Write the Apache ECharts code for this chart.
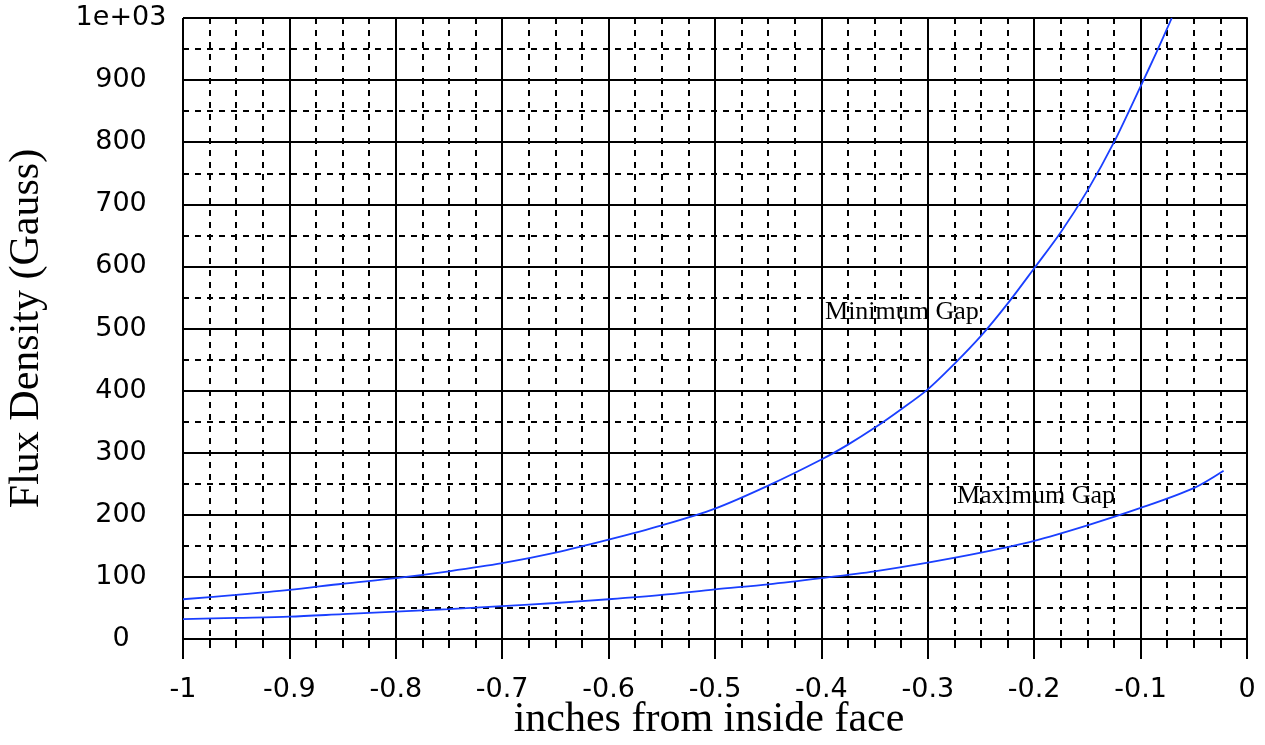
<!DOCTYPE html>
<html><head><meta charset="utf-8">
<script src="https://cdn.jsdelivr.net/npm/echarts@6/dist/echarts.min.js"></script>
<style>html,body{margin:0;padding:0;background:#fff}#c{width:1265px;height:745px}</style>
</head><body><div id="c"></div>
<script>
// ---- data ----
const minGapX = [-1,-0.95,-0.9,-0.85,-0.8,-0.75,-0.7,-0.65,-0.6,-0.55,-0.5,-0.45,-0.4,-0.375,-0.35,-0.325,-0.3,-0.275,-0.25,-0.225,-0.2,-0.175,-0.15,-0.125,-0.1,-0.085,-0.0707];
const minGapY = [64,71,79,89,98,109,122,139,160,183,210,247,289,313,340,370,402,443,488,540,597,655,722,800,890,945,1000];
const maxGapX = [-1,-0.95,-0.9,-0.85,-0.8,-0.75,-0.7,-0.65,-0.6,-0.55,-0.5,-0.45,-0.4,-0.35,-0.3,-0.25,-0.2,-0.15,-0.1,-0.05,-0.022];
const maxGapY = [32,34,36,40,44,48,53,58,64,71,80,88,98,109,123,139,158,183,211,243,271];
const xTickLabels = ['-1','-0.9','-0.8','-0.7','-0.6','-0.5','-0.4','-0.3','-0.2','-0.1','0'];
const yTickLabels = ['0','100','200','300','400','500','600','700','800','900','1e+03'];
const annotations = [
  {name:'Minimum Gap', x:-0.3966, y:527},
  {name:'Maximum Gap', x:-0.2726, y:230}
];
const xTitle = 'inches from inside face';
const yTitle = 'Flux Density (Gauss)';

const zip = (xs, ys) => xs.map((x, i) => [x, ys[i]]);
const LINE = '#000';
const BLUE = '#1a3fff';
const LW = 2;

const chart = echarts.init(document.getElementById('c'), null, {renderer:'canvas'});
chart.setOption({
  animation: false,
  backgroundColor: '#fff',
  grid: {left:183, right:18, top:18, bottom:106, containLabel:false, outerBoundsMode:'none'},
  xAxis: {
    type:'value', min:-1, max:0, interval:0.1,
    name: xTitle, nameLocation:'middle', nameGap:60, nameMoveOverlap:false,
    nameTextStyle:{fontFamily:'Liberation Serif', fontSize:42, color:'#000', padding:[0,12,0,0]},
    axisLine:{show:true, lineStyle:{color:LINE, width:LW}},
    axisTick:{show:true, length:20, lineStyle:{color:LINE, width:LW}},
    minorTick:{show:true, splitNumber:4, length:9, lineStyle:{color:LINE, width:LW}},
    splitLine:{show:true, lineStyle:{color:LINE, width:LW}},
    minorSplitLine:{show:true, lineStyle:{color:LINE, width:LW, type:[6,6]}},
    axisLabel:{margin:37, fontFamily:'DejaVu Sans', fontSize:27, color:'#000',
      formatter:(v)=>xTickLabels[Math.round((v+1)*10)]}
  },
  yAxis: {
    type:'value', min:0, max:1000, interval:100,
    name: yTitle, nameLocation:'middle', nameGap:135, nameRotate:90,
    nameTextStyle:{fontFamily:'Liberation Serif', fontSize:42, color:'#000'},
    axisLine:{show:true, lineStyle:{color:LINE, width:LW}},
    axisTick:{show:true, length:22, lineStyle:{color:LINE, width:LW}},
    minorTick:{show:true, splitNumber:2, length:11, lineStyle:{color:LINE, width:LW}},
    splitLine:{show:true, lineStyle:{color:LINE, width:LW}},
    minorSplitLine:{show:true, lineStyle:{color:LINE, width:LW, type:[6,6]}},
    axisLabel:{margin:62, align:'center', verticalAlign:'middle',
      fontFamily:'DejaVu Sans', fontSize:27, color:'#000',
      formatter:(v)=>yTickLabels[Math.round(v/100)]}
  },
  series: [
    {name:'Minimum Gap', type:'line', data:zip(minGapX, minGapY), smooth:0.3, showSymbol:false,
     clip:true, lineStyle:{color:BLUE, width:1.8}, silent:true},
    {name:'Maximum Gap', type:'line', data:zip(maxGapX, maxGapY), smooth:0.3, showSymbol:false,
     clip:true, lineStyle:{color:BLUE, width:1.8}, silent:true},
    {name:'labels', type:'scatter', symbolSize:0, silent:true, z:10,
     itemStyle:{opacity:1},
     data: annotations.map(a => ({name:a.name, value:[a.x, a.y]})),
     label:{show:true, position:'right', distance:0, formatter:'{b}', opacity:1,
       textBorderWidth:0, fontFamily:'Liberation Serif', fontSize:26, color:'#000'}}
  ]
});
</script></body></html>
